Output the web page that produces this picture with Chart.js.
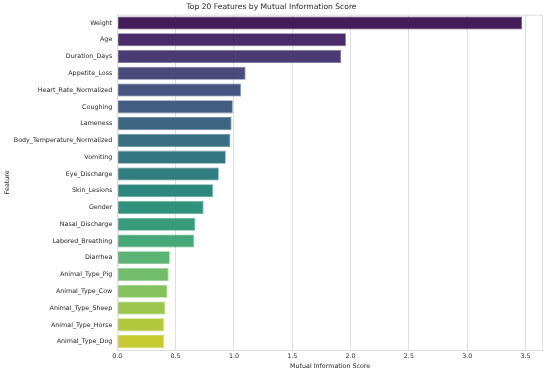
<!DOCTYPE html>
<html>
<head>
<meta charset="utf-8">
<script src="https://cdn.jsdelivr.net/npm/chart.js@4/dist/chart.umd.min.js"></script>
<style>
    html, body { margin: 0; padding: 0; background: #fff; }
    #wrap { width: 550px; height: 374px; }
</style>
</head>
<body>
<div id="wrap"><canvas id="miChart"></canvas></div>
<script>
// --- data ---
const features = [
    "Weight", "Age", "Duration_Days", "Appetite_Loss", "Heart_Rate_Normalized",
    "Coughing", "Lameness", "Body_Temperature_Normalized", "Vomiting", "Eye_Discharge",
    "Skin_Lesions", "Gender", "Nasal_Discharge", "Labored_Breathing", "Diarrhea",
    "Animal_Type_Pig", "Animal_Type_Cow", "Animal_Type_Sheep", "Animal_Type_Horse", "Animal_Type_Dog"
];
const miScores = [
    3.47, 1.96, 1.92, 1.10, 1.06,
    0.99, 0.98, 0.97, 0.93, 0.87,
    0.82, 0.74, 0.67, 0.66, 0.45,
    0.44, 0.43, 0.41, 0.40, 0.40
];
const xTickValues = [0, 0.5, 1.0, 1.5, 2.0, 2.5, 3.0, 3.5];

// viridis stops (every 0.05), sampled like seaborn and desaturated to 0.75
const viridisStops = [
    [68,1,84],[71,19,101],[72,36,117],[70,52,128],[65,68,135],[59,82,139],[53,95,141],
    [47,108,142],[42,120,142],[37,132,142],[33,145,140],[30,156,137],[34,168,132],
    [47,180,124],[68,191,112],[94,201,98],[122,209,81],[155,217,60],[189,223,38],
    [223,227,24],[253,231,37]
];

function viridis(t) {
    const pos = t * (viridisStops.length - 1);
    const i = Math.min(Math.floor(pos), viridisStops.length - 2);
    const f = pos - i;
    const a = viridisStops[i], b = viridisStops[i + 1];
    return [0, 1, 2].map(k => (a[k] + (b[k] - a[k]) * f) / 255);
}

function desaturate(rgb, prop) {
    const [r, g, b] = rgb;
    const mx = Math.max(r, g, b), mn = Math.min(r, g, b);
    const l = (mx + mn) / 2;
    if (mx === mn) return rgb;
    const d = mx - mn;
    let s = l > 0.5 ? d / (2 - mx - mn) : d / (mx + mn);
    let h;
    if (mx === r) h = ((g - b) / d + (g < b ? 6 : 0)) / 6;
    else if (mx === g) h = ((b - r) / d + 2) / 6;
    else h = ((r - g) / d + 4) / 6;
    s *= prop;
    const q = l < 0.5 ? l * (1 + s) : l + s - l * s;
    const p = 2 * l - q;
    const hue = (t) => {
        if (t < 0) t += 1;
        if (t > 1) t -= 1;
        if (t < 1 / 6) return p + (q - p) * 6 * t;
        if (t < 1 / 2) return q;
        if (t < 2 / 3) return p + (q - p) * (2 / 3 - t) * 6;
        return p;
    };
    return [hue(h + 1 / 3), hue(h), hue(h - 1 / 3)];
}

const toCss = (rgb, alpha) =>
    "rgba(" + rgb.map(v => Math.round(v * 255)).join(",") + "," + alpha + ")";

const barColors = features.map((_, i) =>
    toCss(desaturate(viridis((i + 1) / (features.length + 1)), 0.75), 1));
const edgeColors = features.map((_, i) => {
    const c = desaturate(viridis((i + 1) / (features.length + 1)), 0.75);
    return toCss(c.map(v => v + (1 - v) * 0.25), 1);
});

const fontFamily = "'DejaVu Sans', sans-serif";
const textColor = "#262626";
const gridColor = "#dedede";

// light frame around the plot area, like seaborn whitegrid spines
const frame = {
    id: "frame",
    afterDraw(chart) {
        const { ctx, chartArea: a } = chart;
        ctx.save();
        ctx.strokeStyle = gridColor;
        ctx.lineWidth = 1;
        ctx.strokeRect(a.left + 0.5, a.top + 0.5, a.right - a.left - 1, a.bottom - a.top);
        ctx.restore();
    }
};

new Chart(document.getElementById("miChart"), {
    type: "bar",
    data: {
        labels: features,
        datasets: [{
            data: miScores,
            backgroundColor: barColors,
            borderColor: edgeColors,
            borderWidth: 0.8,
            barPercentage: 0.78,
            categoryPercentage: 1.0,
        }],
    },
    options: {
        indexAxis: "y",
        responsive: true,
        maintainAspectRatio: false,
        animation: false,
        layout: { padding: { left: 0, right: 7, top: 0, bottom: 0 } },
        plugins: {
            legend: { display: false },
            tooltip: { enabled: false },
            title: {
                display: true,
                text: "Top 20 Features by Mutual Information Score",
                color: textColor,
                font: { family: fontFamily, size: 7.6, weight: "normal" },
                padding: { top: 2.5, bottom: 3 },
            },
        },
        scales: {
            x: {
                type: "linear",
                min: 0,
                max: 3.65,
                afterBuildTicks: (scale) => {
                    scale.ticks = xTickValues.map(v => ({ value: v }));
                },
                afterFit: (scale) => { scale.height = 24; },
                ticks: {
                    color: textColor,
                    font: { family: fontFamily, size: 6.35 },
                    padding: 3,
                    maxRotation: 0,
                    callback: (v) => Number(v).toFixed(1),
                },
                grid: { color: gridColor, lineWidth: 1, drawTicks: false },
                border: { color: gridColor },
                title: {
                    display: true,
                    text: "Mutual Information Score",
                    color: textColor,
                    font: { family: fontFamily, size: 6.35 },
                    padding: { top: 0, bottom: 4.2 },
                },
            },
            y: {
                afterFit: (scale) => { scale.width = 117.3; },
                ticks: {
                    color: textColor,
                    font: { family: fontFamily, size: 6.35 },
                    padding: 5,
                    autoSkip: false,
                },
                grid: { display: false, drawTicks: false },
                border: { color: gridColor },
                title: {
                    display: true,
                    text: "Feature",
                    color: textColor,
                    font: { family: fontFamily, size: 6.35 },
                    padding: { top: 3.2, bottom: 0 },
                },
            },
        },
    },
    plugins: [frame],
});
</script>
</body>
</html>
